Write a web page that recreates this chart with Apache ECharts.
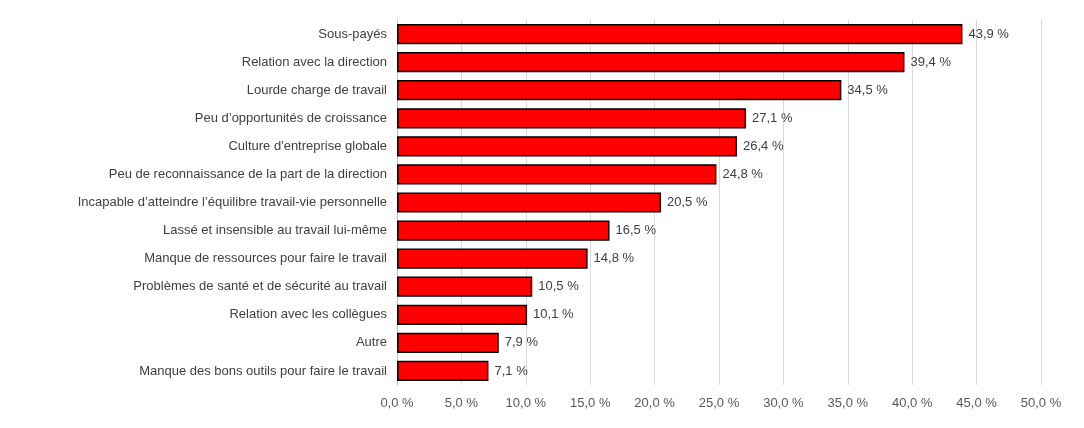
<!DOCTYPE html>
<html><head><meta charset="utf-8">
<script src="https://cdn.jsdelivr.net/npm/echarts@6/dist/echarts.min.js"></script>
<style>html,body{margin:0;padding:0;background:#fff}#c{width:1084px;height:428px}</style>
</head><body><div id="c"></div>
<script>
const categories = ["Sous-payés","Relation avec la direction","Lourde charge de travail","Peu d’opportunités de croissance","Culture d'entreprise globale","Peu de reconnaissance de la part de la direction","Incapable d’atteindre l’équilibre travail-vie personnelle","Lassé et insensible au travail lui-même","Manque de ressources pour faire le travail","Problèmes de santé et de sécurité au travail","Relation avec les collègues","Autre","Manque des bons outils pour faire le travail"];
const values = [43.9,39.4,34.5,27.1,26.4,24.8,20.5,16.5,14.8,10.5,10.1,7.9,7.1];
const fmt = v => v.toFixed(1).replace('.', ',') + ' %';
const chart = echarts.init(document.getElementById('c'));
const font = "'Liberation Sans', sans-serif";
chart.setOption({
  animation:false,
  grid:{left:397,right:43,top:20,bottom:43},
  xAxis:{type:'value',min:0,max:50,interval:5,
    axisLabel:{formatter:fmt,color:'#595959',fontFamily:font,fontSize:13,margin:12},
    splitLine:{lineStyle:{color:'#d9d9d9'}},axisLine:{show:false},axisTick:{show:false}},
  yAxis:{type:'category',inverse:true,data:categories,
    axisLabel:{color:'#404040',fontFamily:font,fontSize:13,margin:10},
    axisLine:{lineStyle:{color:'#bfbfbf'}},axisTick:{show:false}},
  series:[{type:'bar',data:values,barCategoryGap:'28%',
    itemStyle:{color:'#ff0000',borderColor:'#000',borderWidth:1.5},
    label:{show:true,position:'right',formatter:p=>fmt(p.value),color:'#404040',fontFamily:font,fontSize:13,distance:6}}]
});
</script></body></html>
